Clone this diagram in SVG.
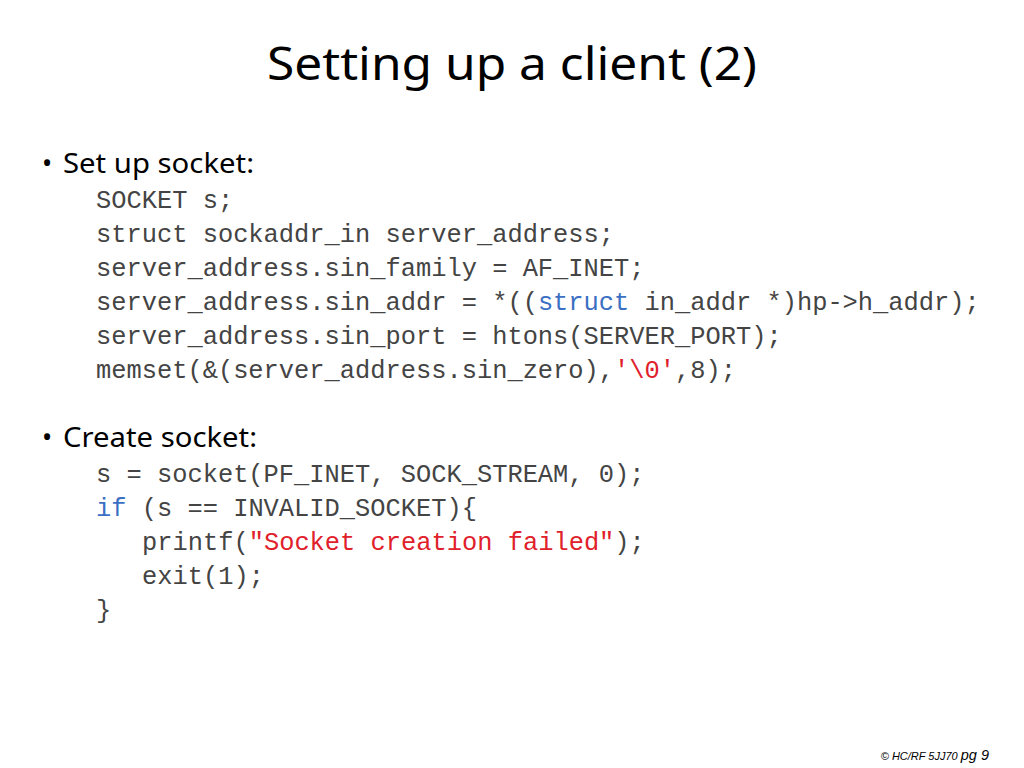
<svg xmlns="http://www.w3.org/2000/svg" width="1024" height="768" viewBox="0 0 1024 768">
<style>
.title{font-family:"Comic Sans MS","Noto Sans","DejaVu Sans",sans-serif;font-size:46px;fill:#000}
.head{font-family:"Comic Sans MS","Noto Sans","DejaVu Sans",sans-serif;font-size:27px;fill:#000}
.code{font-family:"Liberation Mono","Courier New",monospace;font-size:25.4px;fill:#444}
.kw{fill:#3b6fc4}
.str{fill:#e0202a}
.foot{font-family:"Liberation Sans",Arial,sans-serif;font-style:italic;fill:#000}
</style>
<rect width="1024" height="768" fill="#fff"/>
<text class="title" x="512" y="80" text-anchor="middle" textLength="490" lengthAdjust="spacingAndGlyphs">Setting up a client (2)</text>
<g id="section1">
<text class="head" x="42" y="173">•</text>
<text class="head" x="63" y="173" textLength="191" lengthAdjust="spacingAndGlyphs">Set up socket:</text>
<text class="code" x="96" y="208">SOCKET s;</text>
<text class="code" x="96" y="242">struct sockaddr_in server_address;</text>
<text class="code" x="96" y="276">server_address.sin_family = AF_INET;</text>
<text class="code" x="96" y="310">server_address.sin_addr = *((<tspan class="kw">struct</tspan> in_addr *)hp-&gt;h_addr);</text>
<text class="code" x="96" y="344">server_address.sin_port = htons(SERVER_PORT);</text>
<text class="code" x="96" y="378">memset(&amp;(server_address.sin_zero),<tspan class="str">'\0'</tspan>,8);</text>
</g>
<g id="section2">
<text class="head" x="42" y="447">•</text>
<text class="head" x="63" y="447" textLength="194" lengthAdjust="spacingAndGlyphs">Create socket:</text>
<text class="code" x="96" y="482">s = socket(PF_INET, SOCK_STREAM, 0);</text>
<text class="code" x="96" y="516"><tspan class="kw">if</tspan> (s == INVALID_SOCKET){</text>
<text class="code" x="142" y="550">printf(<tspan class="str">"Socket creation failed"</tspan>);</text>
<text class="code" x="142" y="584">exit(1);</text>
<text class="code" x="96" y="618">}</text>
</g>
<text class="foot" x="989" y="760" text-anchor="end"><tspan font-size="11px">© HC/RF 5JJ70 </tspan><tspan font-size="14.5px">pg 9</tspan></text>
</svg>
